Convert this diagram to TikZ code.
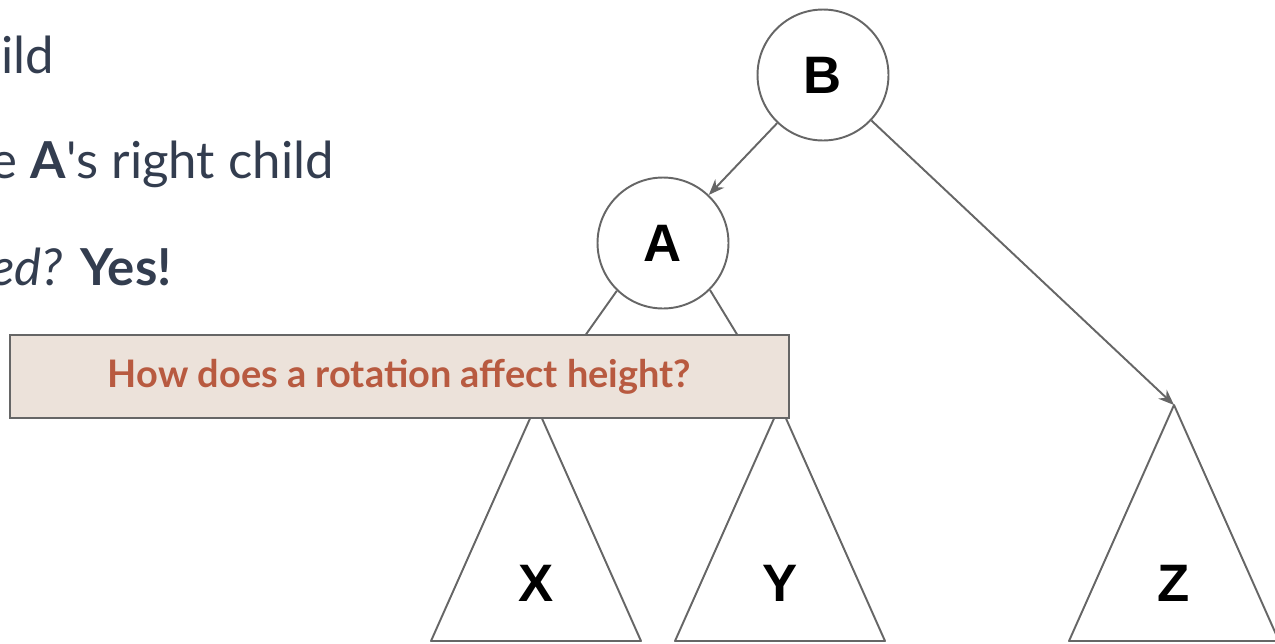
\documentclass[tikz,border=0pt]{standalone}
\usepackage{fontspec}
\usepackage{xcolor}
\usepackage{tikz}
\usetikzlibrary{positioning, arrows.meta, calc}

\setmainfont{Liberation Sans}
\newfontfamily\bodyfont{Lato}
\definecolor{edgegray}{HTML}{666666}
\definecolor{slate}{HTML}{333D4F}
\definecolor{rust}{HTML}{B85A40}
\definecolor{sand}{HTML}{ECE2DA}

\begin{document}
\begin{tikzpicture}[
  x=0.02cm, y=-0.02cm,
  vert/.style={draw=edgegray, line width=1.1pt, circle, minimum size=2.62cm, inner sep=0pt, fill=white, font=\fontsize{30}{30}\selectfont\bfseries},
  edge/.style={draw=edgegray, line width=1.1pt, -{Stealth[length=9pt,width=7pt]}},
  tri/.style={draw=edgegray, line width=1.1pt, line join=round},
  leaf/.style={font=\fontsize{30}{30}\selectfont\bfseries},
  body/.style={anchor=base east, text=slate, font=\bodyfont\fontsize{29}{29}\selectfont},
  qbox/.style={draw=edgegray, line width=1.1pt, fill=sand, minimum width=15.58cm, minimum height=1.66cm, text=rust, font=\bodyfont\fontsize{21.6}{22}\selectfont\bfseries}
]
\useasboundingbox (0,0) rectangle (1275,643);

% slide text (cut at the left edge)
\node[body] (l1) at (60,73) {hild};
\node[body] (l2) at (340,178) {e \textbf{A}'s right child};
\node[body] (l3) at (178,285) {\textit{ed?} \textbf{Yes!}};

% tree nodes
\node[vert] (B) at (823,75) {B};
\node[vert] (A) at (663,243) {A};

% subtrees
\coordinate (xTop) at (536,405);
\coordinate (yTop) at (780,405);
\coordinate (zTop) at (1174,405);
\draw[tri] (xTop) -- ++(105,236) -- ++(-210,0) -- cycle;
\draw[tri] (yTop) -- ++(105,236) -- ++(-210,0) -- cycle;
\draw[tri] (zTop) -- ++(105,236) -- ++(-210,0) -- cycle;
\node[leaf] (X) at (536,583) {X};
\node[leaf] (Y) at (780,583) {Y};
\node[leaf] (Z) at (1174,583) {Z};

% edges
\draw[edge] (B) -- (A);
\draw[edge] (B) -- (zTop);
\draw[edge] (A.-134) -- (xTop);
\draw[edge] (A.-45) -- (yTop);

% question box
\node[qbox] (q) at (399.5,376.5) {How does a rotation affect height?};

\end{tikzpicture}
\end{document}
